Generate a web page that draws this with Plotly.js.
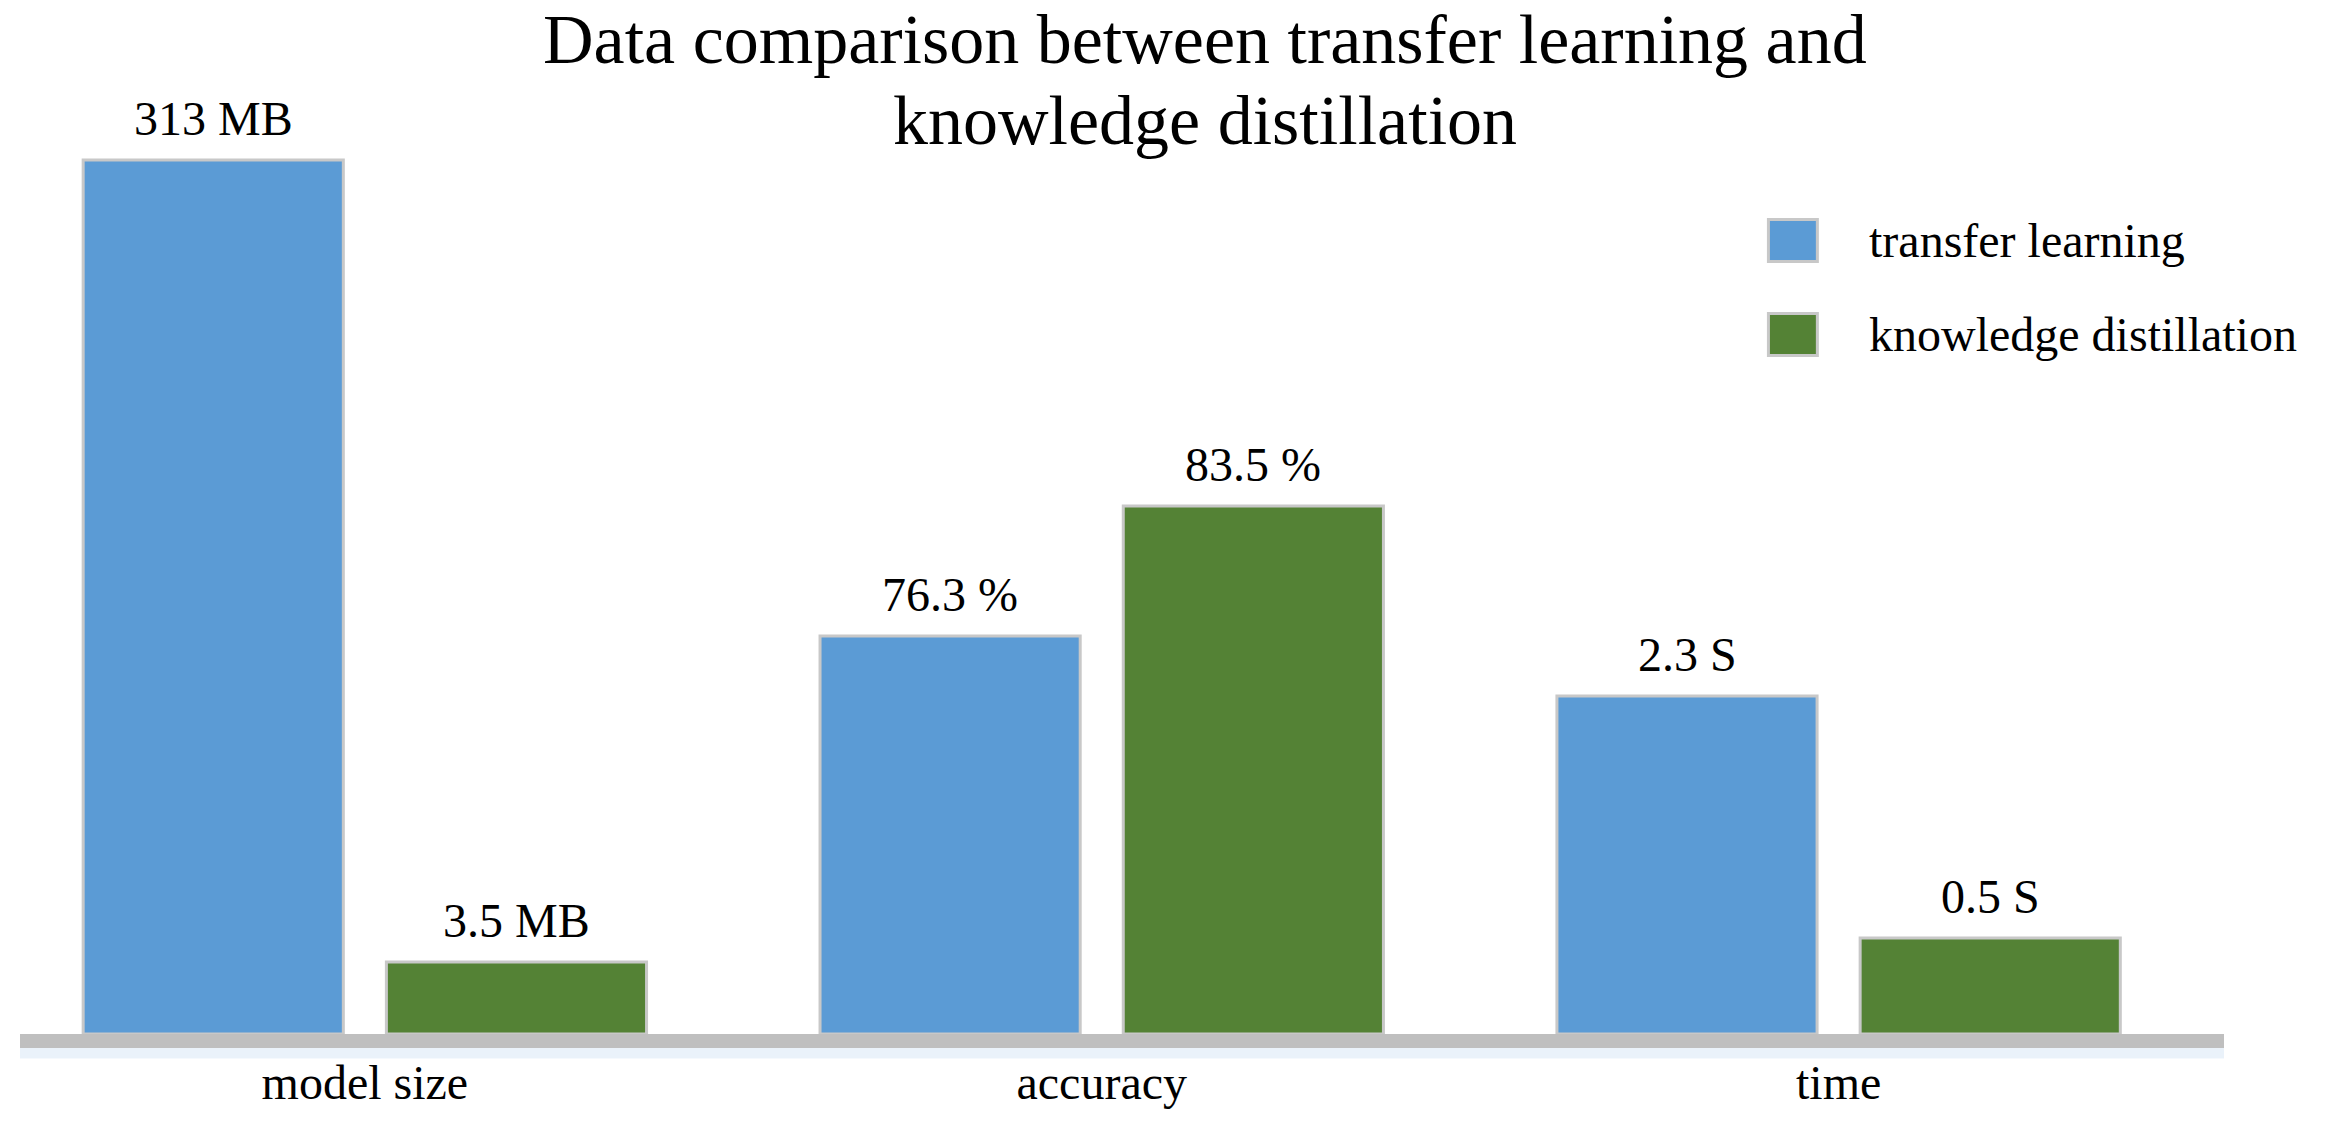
<!DOCTYPE html>
<html>
<head>
<meta charset="utf-8">
<script src="https://cdn.plot.ly/plotly-3.0.1.min.js"></script>
<style>html,body{margin:0;padding:0;background:#fff;}#chart{width:2335px;height:1122px;}</style>
</head>
<body>
<div id="chart"></div>
<script>
// ---- data ----
const categories = ['model size', 'accuracy', 'time'];
const seriesNames = ['transfer learning', 'knowledge distillation'];
// drawn bar heights (the original chart is not to scale; relative units)
const heightTransfer = [87.4, 39.8, 33.8];
const heightDistill = [7.2, 52.8, 9.6];
// value labels printed above the bars
const labelTransfer = ['313 MB', '76.3 %', '2.3 S'];
const labelDistill = ['3.5 MB', '83.5 %', '0.5 S'];
const titleLines = ['Data comparison between transfer learning and', 'knowledge distillation'];

// ---- styles ----
const FONT = 'Liberation Serif, Times New Roman, serif';
const colors = ['#5B9BD5', '#548235'];
const borderColor = '#C8C8C8';
const BARGAP = 0.177, GROUPGAP = 0.142;
const slot = (1 - BARGAP) / 2;

const traces = [
  {type: 'bar', name: seriesNames[0], x: categories, y: heightTransfer,
   marker: {color: colors[0], line: {color: borderColor, width: 3}}, hoverinfo: 'skip'},
  {type: 'bar', name: seriesNames[1], x: categories, y: heightDistill,
   marker: {color: colors[1], line: {color: borderColor, width: 3}}, hoverinfo: 'skip'}
];

const annotations = [];
[[heightTransfer, labelTransfer, -1], [heightDistill, labelDistill, 1]].forEach(([h, lab, side]) => {
  categories.forEach((c, i) => {
    annotations.push({x: i + side * slot / 2, y: h[i], xref: 'x', yref: 'y', text: lab[i],
      showarrow: false, xanchor: 'center', yanchor: 'middle', yshift: 42,
      font: {family: FONT, size: 48, color: '#000'}});
  });
});
// second title line
annotations.push({x: 0.5376, y: 1.0153, xref: 'paper', yref: 'paper', text: titleLines[1],
  showarrow: false, xanchor: 'center', yanchor: 'middle', font: {family: FONT, size: 70, color: '#000'}});

// manual legend
const legY = [[0.9081, 0.8589], [0.8053, 0.7560]];
const shapes = [
  {type: 'rect', xref: 'paper', yref: 'paper', x0: 0, x1: 1, y0: -0.0115, y1: 0,
   fillcolor: 'rgba(91,155,213,0.13)', line: {width: 0}, layer: 'below'},
  {type: 'rect', xref: 'paper', yref: 'y', x0: 0, x1: 1, y0: -1.4, y1: 0,
   fillcolor: '#BFBFBF', line: {width: 0}, layer: 'above'}
];
seriesNames.forEach((n, k) => {
  shapes.push({type: 'rect', xref: 'paper', yref: 'paper', x0: 0.7933, x1: 0.8155,
    y0: legY[k][1] + 0.0016, y1: legY[k][0] - 0.0016,
    fillcolor: colors[k], line: {color: borderColor, width: 3}});
  annotations.push({x: 0.838, y: (legY[k][0] + legY[k][1]) / 2, xref: 'paper', yref: 'paper',
    text: n, showarrow: false, xanchor: 'left', yanchor: 'middle',
    font: {family: FONT, size: 48, color: '#000'}});
});

const layout = {
  width: 2335, height: 1122,
  margin: {l: 20, r: 111, t: 134, b: 74},
  paper_bgcolor: '#fff', plot_bgcolor: '#fff',
  font: {family: FONT, color: '#000'},
  title: {text: titleLines[0], font: {family: FONT, size: 70, color: '#000'},
    x: 0.516, xref: 'container', xanchor: 'center', y: 0.9657, yref: 'container', yanchor: 'middle'},
  barmode: 'group', bargap: BARGAP, bargroupgap: GROUPGAP,
  showlegend: false,
  xaxis: {type: 'category', range: [-0.468, 2.523], showgrid: false, zeroline: false,
    showline: false, ticks: '', ticklabelstandoff: 2, tickfont: {family: FONT, size: 48, color: '#000'}},
  yaxis: {range: [-1.4, 90], visible: false, showgrid: false, zeroline: false},
  annotations: annotations,
  shapes: shapes
};

Plotly.newPlot('chart', traces, layout, {staticPlot: true, displayModeBar: false});
</script>
</body>
</html>
